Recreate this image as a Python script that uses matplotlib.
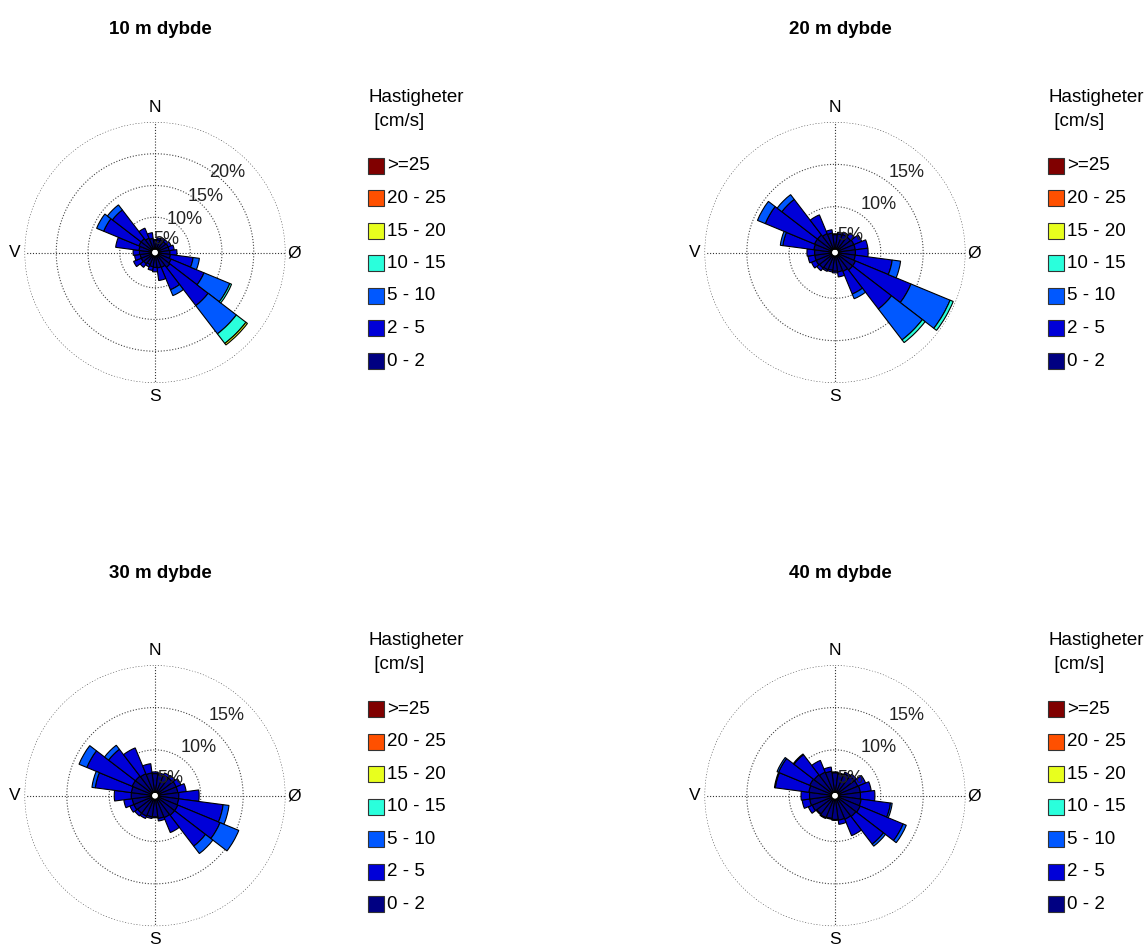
import numpy as np
import matplotlib
matplotlib.use('Agg')
import matplotlib.pyplot as plt
from matplotlib.patches import Rectangle

plt.rcParams['font.family'] = ['Liberation Sans', 'DejaVu Sans']

# direction bins (degrees, clockwise from north), 15 degree sectors
directions = [0, 15, 30, 45, 60, 75, 90, 105, 120, 135, 150, 165,
              180, 195, 210, 225, 240, 255, 270, 285, 300, 315, 330, 345]

# speed classes (cm/s) and colours
classes = ['0 - 2', '2 - 5', '5 - 10', '10 - 15', '15 - 20', '20 - 25', '>=25']
class_colors = ['#000082', '#0000d8', '#0058ff', '#2affdc', '#e8ff1e', '#ff5000', '#800000']

# frequencies (%) per class, 10 m depth
p10_0_2 = [1.3, 1.5, 1.6, 1.6, 1.7, 1.7, 1.8, 1.9, 2.2, 2.4, 2.0, 1.9,
           1.8, 1.7, 1.5, 1.7, 1.8, 1.8, 1.9, 2.0, 2.2, 2.2, 1.9, 1.7]
p10_2_5 = [0.2, 0.3, 0.4, 0.4, 0.5, 0.8, 1.1, 3.6, 5.6, 7.6, 3.8, 2.0,
           0.7, 0.6, 0.4, 0.7, 1.3, 0.9, 1.0, 3.7, 6.0, 5.7, 1.7, 0.9]
p10_5_10 = [0, 0, 0, 0, 0, 0, 0, 1.0, 4.4, 5.6, 1.0, 0,
            0, 0, 0, 0, 0, 0, 0, 0, 1.2, 1.0, 0, 0]
p10_10_15 = [0, 0, 0, 0, 0, 0, 0, 0, 0.3, 1.9, 0, 0,
             0, 0, 0, 0, 0, 0, 0, 0, 0, 0, 0, 0]
p10_15_20 = [0, 0, 0, 0, 0, 0, 0, 0, 0, 0.3, 0, 0,
             0, 0, 0, 0, 0, 0, 0, 0, 0, 0, 0, 0]

# 20 m depth
p20_0_2 = [1.7, 1.8, 1.9, 1.9, 2.0, 2.0, 2.0, 2.0, 2.2, 2.2, 2.0, 1.9,
           1.8, 1.7, 1.8, 1.9, 2.0, 2.0, 2.0, 2.1, 2.2, 2.2, 2.0, 1.9]
p20_2_5 = [0.1, 0.2, 0.3, 0.6, 1.0, 1.5, 1.5, 4.4, 7.1, 5.8, 2.9, 0.6,
           0.2, 0.2, 0.2, 0.4, 0.6, 0.8, 0.9, 3.7, 6.3, 5.3, 2.4, 0.4]
p20_5_10 = [0, 0, 0, 0, 0, 0, 0, 1.0, 5.0, 4.6, 0.6, 0,
            0, 0, 0, 0, 0, 0, 0, 0.3, 1.0, 0.7, 0, 0]
p20_10_15 = [0, 0, 0, 0, 0, 0, 0, 0, 0.4, 0.4, 0, 0,
             0, 0, 0, 0, 0, 0, 0, 0, 0, 0, 0, 0]

# 30 m depth
p30_0_2 = [2.2, 2.1, 2.2, 2.2, 2.3, 2.3, 2.4, 2.4, 2.5, 2.5, 2.4, 2.3,
           2.1, 2.1, 2.2, 2.2, 2.3, 2.3, 2.4, 2.4, 2.5, 2.5, 2.4, 2.3]
p30_2_5 = [0.2, 0.2, 0.3, 0.4, 0.6, 1.0, 2.4, 5.3, 5.4, 4.6, 1.9, 0.3,
           0.1, 0.2, 0.3, 0.4, 0.5, 1.0, 2.0, 4.3, 5.8, 4.0, 3.3, 1.1]
p30_5_10 = [0, 0, 0, 0, 0, 0, 0, 0.7, 2.4, 1.1, 0, 0,
            0, 0, 0, 0, 0, 0, 0, 0.4, 1.0, 0.6, 0, 0]

# 40 m depth
p40_0_2 = [2.3, 2.2, 2.4, 2.5, 2.5, 2.6, 2.6, 2.7, 2.8, 2.7, 2.6, 2.5,
           2.4, 2.3, 2.4, 2.3, 2.5, 2.6, 2.6, 2.7, 2.8, 2.7, 2.6, 2.5]
p40_2_5 = [0.1, 0.1, 0.2, 0.3, 1.0, 1.3, 1.7, 3.5, 5.5, 4.1, 2.1, 0.5,
           0.1, 0.1, 0.1, 0.1, 0.5, 0.9, 1.0, 4.0, 4.0, 3.0, 1.5, 0.5]
p40_5_10 = [0, 0, 0, 0, 0, 0, 0, 0.2, 0.4, 0.3, 0, 0,
            0, 0, 0, 0, 0, 0, 0, 0.1, 0.2, 0.1, 0, 0]

titles = ['10 m dybde', '20 m dybde', '30 m dybde', '40 m dybde']
ring_levels = [[5, 10, 15, 20], [5, 10, 15], [5, 10, 15], [5, 10, 15]]
panel_data = [
    [p10_0_2, p10_2_5, p10_5_10, p10_10_15, p10_15_20],
    [p20_0_2, p20_2_5, p20_5_10, p20_10_15],
    [p30_0_2, p30_2_5, p30_5_10],
    [p40_0_2, p40_2_5, p40_5_10],
]

W, H = 1147, 946
fig = plt.figure(figsize=(W / 100, H / 100), dpi=100)


def fx(x):
    return x / W


def fy(y):
    return 1 - y / H


centers = [(155, 252.5), (835, 252.5), (155, 795.7), (835, 795.7)]
R = 130.5        # outer ring radius in pixels
hole_px = 3.5    # white centre hole
width = np.deg2rad(15)
theta = np.deg2rad(directions)
dots = (0, (1, 1.6))

for i in range(4):
    cx, cy = centers[i]
    ax = fig.add_axes([fx(cx - R), fy(cy + R), 2 * R / W, 2 * R / H], projection='polar')
    ax.set_theta_zero_location('N')
    ax.set_theta_direction(-1)
    rmax = ring_levels[i][-1]
    h = hole_px / R
    ax.set_ylim(0, rmax)
    ax.set_rorigin(-h * rmax / (1 - h))
    ax.grid(False)
    ax.set_xticks([])
    ax.set_yticks([])
    ax.spines['polar'].set_visible(False)

    # dotted rings and cross
    t = np.linspace(0, 2 * np.pi, 400)
    for ring in ring_levels[i]:
        ax.plot(t, np.full_like(t, ring), ls=dots, color='#444444', lw=0.8, zorder=1)
    for a in [0, 90, 180, 270]:
        ax.plot([np.deg2rad(a)] * 2, [0, rmax], ls=dots, color='#333333', lw=0.8, zorder=1)

    # stacked wedges
    bottom = np.zeros(len(directions))
    for k, vals in enumerate(panel_data[i]):
        vals = np.array(vals)
        mask = vals > 0
        ax.bar(theta[mask], vals[mask], width=width, bottom=bottom[mask],
               color=class_colors[k], edgecolor='black', linewidth=0.8, zorder=2)
        bottom = bottom + vals

    # percent labels
    for ring in ring_levels[i]:
        ring_px = hole_px + ring / rmax * (R - hole_px)
        d = max(ring_px - 23, 17)
        ang = np.deg2rad(42)
        ax.text(0.5 + d * np.sin(ang) / (2 * R), 0.5 + d * np.cos(ang) / (2 * R),
                f'{ring}%', transform=ax.transAxes, ha='center', va='center',
                fontsize=13, color='#222222', zorder=5)

    # compass letters
    ax.text(0.5, 1 + 15 / (2 * R), 'N', transform=ax.transAxes, ha='center', va='center', fontsize=12.5)
    ax.text(0.5, -13 / (2 * R), 'S', transform=ax.transAxes, ha='center', va='center', fontsize=12.5)
    ax.text(-10 / (2 * R), 0.5, 'V', transform=ax.transAxes, ha='center', va='center', fontsize=12.5)
    ax.text(1 + 9 / (2 * R), 0.5, 'Ø', transform=ax.transAxes, ha='center', va='center', fontsize=12.5)

    # title
    fig.text(fx(cx + 5), fy(cy - 222.5), titles[i], ha='center', va='center',
             fontsize=13.5, fontweight='bold')

    # legend
    lx = cx + 213
    fig.text(fx(lx + 1), fy(cy - 155.5), 'Hastigheter', ha='left', va='center', fontsize=13.5)
    fig.text(fx(lx + 1), fy(cy - 131.5), ' [cm/s]', ha='left', va='center', fontsize=13.5)
    for j in range(7):
        k = 6 - j
        ry = cy - 86.5 + j * 32.5
        fig.patches.append(Rectangle((fx(lx), fy(ry + 8)), 16 / W, 16 / H,
                                     transform=fig.transFigure, facecolor=class_colors[k],
                                     edgecolor='#333333', linewidth=0.8))
        fig.text(fx(lx + 19), fy(ry), classes[k], ha='left', va='center', fontsize=13.5)

fig.savefig('out.png', dpi=100)
